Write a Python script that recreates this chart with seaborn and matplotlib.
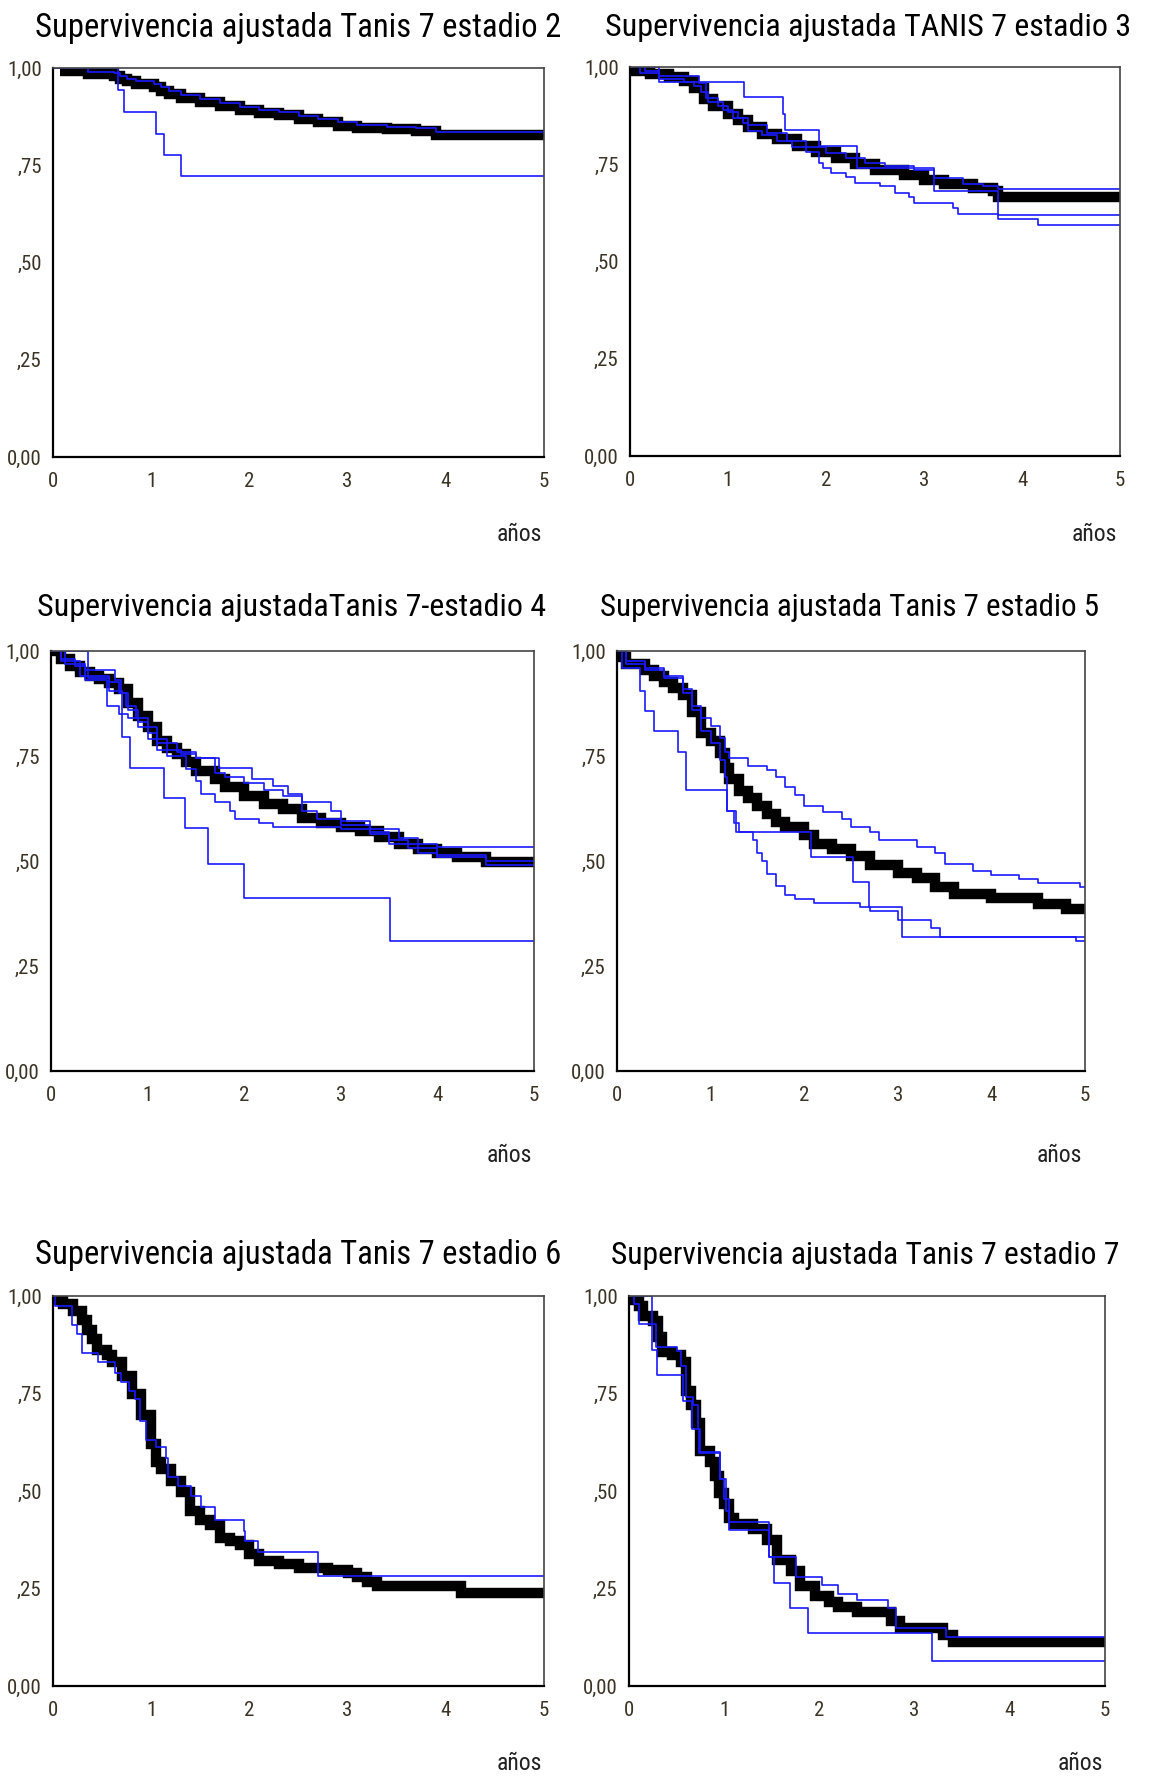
import matplotlib
matplotlib.use('Agg')
import matplotlib.pyplot as plt
import seaborn as sns
from matplotlib import font_manager

# ---- data: survival curves (years, survival) ----
# estadio 2
e2_black_t = [0.07, 0.36, 0.62, 0.68, 0.75, 0.85, 1.03, 1.1, 1.18, 1.3, 1.5, 1.7, 1.9, 2.1, 2.3, 2.5, 2.7, 2.9, 3.1, 3.4, 3.7, 3.9, 5.0]
e2_black_s = [0.993, 0.984, 0.98, 0.972, 0.966, 0.96, 0.952, 0.942, 0.932, 0.924, 0.912, 0.902, 0.892, 0.884, 0.878, 0.869, 0.86, 0.852, 0.846, 0.842, 0.838, 0.828, 0.828]
e2_blue1_t = [0, 0.36, 0.62, 0.68, 0.75, 0.85, 1.03, 1.1, 1.18, 1.3, 1.5, 1.7, 1.9, 2.1, 2.3, 2.5, 2.7, 2.9, 3.1, 3.4, 3.7, 3.9, 5.0]
e2_blue1_s = [1.0, 0.99, 0.987, 0.98, 0.973, 0.967, 0.96, 0.95, 0.94, 0.931, 0.92, 0.91, 0.9, 0.892, 0.886, 0.877, 0.868, 0.86, 0.853, 0.849, 0.845, 0.836, 0.836]
e2_blue2_t = [0, 0.66, 0.72, 1.05, 1.13, 1.30, 5.0]
e2_blue2_s = [1.0, 0.944, 0.886, 0.831, 0.777, 0.722, 0.722]

# estadio 3
e3_black_t = [0.0, 0.2, 0.4, 0.55, 0.65, 0.75, 0.85, 1.0, 1.1, 1.2, 1.35, 1.5, 1.7, 1.9, 2.1, 2.3, 2.5, 2.8, 3.0, 3.2, 3.5, 3.7, 3.76, 5.0]
e3_black_s = [0.991, 0.983, 0.974, 0.965, 0.947, 0.919, 0.901, 0.878, 0.864, 0.846, 0.828, 0.814, 0.797, 0.782, 0.765, 0.75, 0.736, 0.722, 0.709, 0.699, 0.69, 0.681, 0.667, 0.667]
e3_blue1_t = [0, 0.30, 1.16, 1.56, 1.58, 1.93, 2.32, 3.10, 3.75, 5.0]
e3_blue1_s = [1.0, 0.961, 0.924, 0.88, 0.837, 0.796, 0.741, 0.681, 0.62, 0.62]
e3_blue2_t = [0, 0.1, 0.3, 0.55, 0.65, 0.72, 0.8, 0.95, 1.05, 1.15, 1.2, 1.35, 1.5, 1.65, 1.8, 1.93, 1.97, 2.05, 2.2, 2.3, 2.55, 2.7, 2.85, 2.9, 3.3, 3.35, 3.75, 4.16, 5.0]
e3_blue2_s = [1.0, 0.985, 0.97, 0.962, 0.95, 0.935, 0.91, 0.89, 0.87, 0.855, 0.835, 0.825, 0.81, 0.795, 0.782, 0.754, 0.74, 0.727, 0.716, 0.702, 0.693, 0.676, 0.667, 0.651, 0.638, 0.623, 0.61, 0.594, 0.594]
e3_blue3_t = [0, 0.15, 0.3, 0.55, 0.7, 0.78, 0.9, 1.0, 1.1, 1.2, 1.4, 1.6, 1.8, 2.0, 2.2, 2.4, 2.6, 2.9, 3.1, 3.4, 3.6, 3.75, 5.0]
e3_blue3_s = [1.0, 0.99, 0.978, 0.976, 0.96, 0.92, 0.9, 0.885, 0.87, 0.85, 0.83, 0.81, 0.795, 0.78, 0.765, 0.752, 0.745, 0.735, 0.715, 0.7, 0.695, 0.686, 0.686]

# estadio 4
e4_black_t = [0, 0.1, 0.2, 0.3, 0.4, 0.5, 0.6, 0.7, 0.8, 0.9, 1.0, 1.1, 1.2, 1.3, 1.4, 1.5, 1.7, 1.8, 2.0, 2.2, 2.4, 2.6, 2.8, 3.0, 3.2, 3.4, 3.6, 3.8, 4.0, 4.2, 4.5, 5.0]
e4_black_s = [1.0, 0.982, 0.964, 0.95, 0.941, 0.933, 0.924, 0.909, 0.877, 0.845, 0.818, 0.786, 0.768, 0.754, 0.736, 0.715, 0.695, 0.676, 0.654, 0.635, 0.624, 0.603, 0.59, 0.581, 0.572, 0.558, 0.54, 0.528, 0.52, 0.51, 0.497, 0.497]
e4_blue1_t = [0, 0.38, 0.6, 0.73, 0.82, 1.17, 1.39, 1.63, 2.0, 3.51, 5.0]
e4_blue1_s = [1.0, 0.936, 0.905, 0.795, 0.722, 0.649, 0.578, 0.494, 0.412, 0.309, 0.309]
e4_blue2_t = [0, 0.1, 0.25, 0.35, 0.66, 0.72, 0.78, 0.88, 1.0, 1.1, 1.2, 1.35, 1.5, 1.74, 2.08, 2.3, 2.45, 2.6, 2.9, 3.0, 3.3, 3.6, 3.8, 4.0, 5.0]
e4_blue2_s = [1.0, 0.98, 0.965, 0.955, 0.93, 0.9, 0.87, 0.84, 0.818, 0.79, 0.765, 0.755, 0.745, 0.722, 0.695, 0.679, 0.66, 0.64, 0.62, 0.595, 0.575, 0.555, 0.54, 0.533, 0.533]
e4_blue3_t = [0, 0.1, 0.3, 0.6, 0.7, 0.8, 0.9, 1.0, 1.1, 1.3, 1.5, 1.7, 1.8, 2.0, 2.2, 2.4, 2.6, 2.75, 3.0, 3.3, 3.5, 3.7, 4.0, 4.5, 5.0]
e4_blue3_s = [1.0, 0.975, 0.94, 0.925, 0.9, 0.86, 0.83, 0.805, 0.78, 0.76, 0.745, 0.71, 0.7, 0.685, 0.67, 0.655, 0.62, 0.6, 0.585, 0.57, 0.55, 0.53, 0.515, 0.5, 0.5]
e4_blue4_t = [0, 0.15, 0.35, 0.58, 0.7, 0.8, 0.9, 1.0, 1.1, 1.2, 1.4, 1.5, 1.55, 1.7, 1.85, 1.9, 2.15, 2.3, 3.0, 3.3, 3.5, 3.8, 4.0, 4.5, 5.0]
e4_blue4_s = [1.0, 0.97, 0.93, 0.868, 0.85, 0.84, 0.82, 0.79, 0.765, 0.75, 0.72, 0.69, 0.66, 0.64, 0.62, 0.6, 0.59, 0.58, 0.575, 0.565, 0.54, 0.52, 0.51, 0.49, 0.49]

# estadio 5
e5_black_t = [0, 0.05, 0.1, 0.3, 0.4, 0.5, 0.6, 0.7, 0.8, 0.9, 1.0, 1.1, 1.15, 1.2, 1.3, 1.4, 1.5, 1.6, 1.7, 1.8, 2.0, 2.1, 2.3, 2.5, 2.7, 3.0, 3.2, 3.4, 3.6, 4.0, 4.5, 4.8, 5.0]
e5_black_s = [1.0, 0.986, 0.968, 0.954, 0.941, 0.927, 0.911, 0.895, 0.854, 0.804, 0.786, 0.758, 0.722, 0.695, 0.667, 0.649, 0.631, 0.611, 0.593, 0.581, 0.562, 0.541, 0.528, 0.512, 0.49, 0.471, 0.459, 0.439, 0.421, 0.412, 0.398, 0.385, 0.385]
e5_blue1_t = [0, 0.1, 0.3, 0.5, 0.7, 0.8, 0.9, 1.0, 1.1, 1.15, 1.2, 1.4, 1.6, 1.7, 1.8, 1.9, 2.0, 2.2, 2.4, 2.5, 2.7, 2.8, 3.2, 3.4, 3.5, 3.8, 4.0, 4.3, 4.5, 4.95, 5.0]
e5_blue1_s = [1.0, 0.975, 0.96, 0.94, 0.91, 0.87, 0.84, 0.822, 0.793, 0.76, 0.745, 0.727, 0.717, 0.699, 0.676, 0.658, 0.631, 0.617, 0.599, 0.581, 0.569, 0.549, 0.533, 0.52, 0.494, 0.476, 0.467, 0.456, 0.448, 0.437, 0.437]
e5_blue2_t = [0, 0.05, 0.25, 0.3, 0.4, 0.65, 0.74, 1.17, 1.27, 2.07, 2.52, 2.69, 3.04, 5.0]
e5_blue2_s = [1.0, 0.96, 0.904, 0.858, 0.81, 0.76, 0.668, 0.62, 0.57, 0.51, 0.45, 0.39, 0.32, 0.32]
e5_blue3_t = [0, 0.1, 0.3, 0.5, 0.7, 0.8, 0.9, 1.0, 1.1, 1.15, 1.18, 1.25, 1.3, 1.45, 1.5, 1.55, 1.6, 1.7, 1.8, 1.9, 2.1, 2.6, 2.7, 3.0, 3.35, 3.45, 4.9, 5.0]
e5_blue3_s = [1.0, 0.97, 0.955, 0.935, 0.9, 0.86, 0.81, 0.78, 0.74, 0.7, 0.62, 0.59, 0.57, 0.55, 0.52, 0.5, 0.47, 0.44, 0.42, 0.41, 0.40, 0.39, 0.382, 0.36, 0.34, 0.32, 0.31, 0.31]

# estadio 6
e6_black_t = [0, 0.05, 0.1, 0.2, 0.3, 0.35, 0.4, 0.45, 0.55, 0.6, 0.7, 0.8, 0.9, 1.0, 1.05, 1.1, 1.2, 1.3, 1.4, 1.5, 1.6, 1.7, 1.8, 1.9, 2.0, 2.1, 2.3, 2.5, 2.8, 3.0, 3.1, 3.2, 3.3, 4.15, 5.0]
e6_black_s = [1.0, 0.989, 0.98, 0.962, 0.939, 0.912, 0.889, 0.862, 0.848, 0.83, 0.794, 0.748, 0.694, 0.621, 0.575, 0.557, 0.525, 0.498, 0.448, 0.425, 0.412, 0.38, 0.371, 0.362, 0.339, 0.321, 0.312, 0.303, 0.298, 0.289, 0.28, 0.266, 0.257, 0.239, 0.239]
e6_blue1_t = [0, 0.02, 0.19, 0.24, 0.30, 0.46, 0.63, 0.69, 0.77, 0.84, 0.89, 0.95, 1.05, 1.15, 1.17, 1.27, 1.41, 1.51, 1.65, 1.94, 1.96, 2.09, 2.70, 5.0]
e6_blue1_s = [1.0, 0.975, 0.925, 0.903, 0.853, 0.83, 0.803, 0.78, 0.757, 0.735, 0.68, 0.63, 0.612, 0.585, 0.535, 0.512, 0.486, 0.459, 0.425, 0.398, 0.371, 0.344, 0.282, 0.282]

# estadio 7
e7_black_t = [0, 0.05, 0.1, 0.15, 0.25, 0.3, 0.35, 0.45, 0.55, 0.6, 0.65, 0.7, 0.75, 0.85, 0.9, 0.95, 1.0, 1.05, 1.1, 1.3, 1.45, 1.55, 1.7, 1.8, 1.95, 2.1, 2.2, 2.4, 2.75, 2.85, 3.3, 3.4, 5.0]
e7_black_s = [1.0, 0.989, 0.975, 0.948, 0.935, 0.894, 0.857, 0.848, 0.83, 0.757, 0.721, 0.675, 0.603, 0.575, 0.539, 0.494, 0.466, 0.43, 0.416, 0.403, 0.375, 0.323, 0.294, 0.257, 0.23, 0.216, 0.203, 0.189, 0.166, 0.148, 0.13, 0.112, 0.112]
e7_blue1_t = [0, 0.24, 0.29, 0.57, 0.66, 0.74, 0.96, 1.02, 1.05, 1.47, 1.52, 1.69, 1.88, 3.18, 5.0]
e7_blue1_s = [1.0, 0.862, 0.798, 0.73, 0.66, 0.598, 0.532, 0.45, 0.4, 0.33, 0.265, 0.2, 0.135, 0.064, 0.064]
e7_blue2_t = [0, 0.05, 0.1, 0.28, 0.5, 0.55, 0.6, 0.67, 0.72, 0.75, 0.96, 1.0, 1.05, 1.47, 1.75, 2.03, 2.2, 2.4, 2.72, 2.8, 3.33, 5.0]
e7_blue2_s = [1.0, 0.98, 0.928, 0.87, 0.86, 0.82, 0.74, 0.72, 0.66, 0.6, 0.53, 0.48, 0.42, 0.33, 0.28, 0.26, 0.235, 0.22, 0.2, 0.15, 0.125, 0.125]

titles = ['Supervivencia ajustada Tanis 7 estadio 2',
          'Supervivencia ajustada TANIS 7 estadio 3',
          'Supervivencia ajustadaTanis 7-estadio 4',
          'Supervivencia ajustada Tanis 7 estadio 5',
          'Supervivencia ajustada Tanis 7 estadio 6',
          'Supervivencia ajustada Tanis 7 estadio 7']
x_ticks = [0, 1, 2, 3, 4, 5]
y_ticks = [0, 0.25, 0.5, 0.75, 1.0]
y_tick_labels = ['0,00', ',25', ',50', ',75', '1,00']
x_label = 'años'

panels = [
    ((e2_black_t, e2_black_s), [(e2_blue1_t, e2_blue1_s), (e2_blue2_t, e2_blue2_s)]),
    ((e3_black_t, e3_black_s), [(e3_blue1_t, e3_blue1_s), (e3_blue2_t, e3_blue2_s), (e3_blue3_t, e3_blue3_s)]),
    ((e4_black_t, e4_black_s), [(e4_blue1_t, e4_blue1_s), (e4_blue2_t, e4_blue2_s), (e4_blue3_t, e4_blue3_s), (e4_blue4_t, e4_blue4_s)]),
    ((e5_black_t, e5_black_s), [(e5_blue1_t, e5_blue1_s), (e5_blue2_t, e5_blue2_s), (e5_blue3_t, e5_blue3_s)]),
    ((e6_black_t, e6_black_s), [(e6_blue1_t, e6_blue1_s)]),
    ((e7_black_t, e7_black_s), [(e7_blue1_t, e7_blue1_s), (e7_blue2_t, e7_blue2_s)]),
]

# layout in pixels of the 1152x1776 picture: axes box, title start/baseline/width, 'años' right/baseline
W, H = 1152, 1776
boxes = [(53, 544, 68, 457), (630, 1120, 67, 456),
         (51, 534, 651, 1071), (617, 1085, 651, 1071),
         (53, 544, 1296, 1686), (629, 1105, 1296, 1686)]
title_pos = [(35, 37), (605, 36), (37, 616), (600, 616), (35, 1264), (611, 1264)]
title_width = [525, 525, 509, 499, 525, 509]
label_pos = [(542, 541), (1117, 541), (532, 1162), (1082, 1162), (542, 1770), (1103, 1770)]

sns.set_style('white')

# pick the narrowest-looking sans face available (Arial Narrow look-alike)
prefs = ['Roboto Condensed', 'Liberation Sans Narrow', 'Arial Narrow', 'Open Sans Condensed',
         'Noto Sans Condensed', 'Noto Sans', 'Open Sans', 'DejaVu Sans']
best, best_rank = None, 99
for f in font_manager.fontManager.ttflist:
    if f.style != 'normal' or f.weight not in (400, 'normal', 'regular'):
        continue
    condensed = ('Narrow' in f.name or 'Condensed' in f.name
                 or f.stretch in ('condensed', 'semi-condensed', 'extra-condensed')
                 or 'Condensed' in f.fname or 'Narrow' in f.fname)
    if not condensed:
        continue
    rank = 50
    for k, p in enumerate(prefs):
        if f.name.startswith(p):
            rank = k
            break
    if 'Semi' in f.fname or 'Extra' in f.fname or 'Ultra' in f.fname:
        rank += 20
    if rank < best_rank:
        best, best_rank = f, rank
if best is not None:
    fp = font_manager.FontProperties(fname=best.fname)
else:
    fp = font_manager.FontProperties(family='Liberation Sans')

blue = '#1a1aff'
tick_col = '#3b3425'

fig = plt.figure(figsize=(W / 100, H / 100), dpi=100)
fig.patch.set_facecolor('white')

title_texts = []
for i, ((bt, bs), blues) in enumerate(panels):
    l, r, t, b = boxes[i]
    ax = fig.add_axes([l / W, 1 - b / H, (r - l) / W, (b - t) / H])
    sns.lineplot(x=bt, y=bs, ax=ax, color='black', lw=7.5, drawstyle='steps-post',
                 estimator=None, sort=False, solid_capstyle='butt', solid_joinstyle='miter')
    for ct, cs in blues:
        sns.lineplot(x=ct, y=cs, ax=ax, color=blue, lw=1.2, drawstyle='steps-post',
                     estimator=None, sort=False)
    ax.set_xlim(0, 5)
    ax.set_ylim(0, 1)
    ax.set_xticks(x_ticks)
    ax.set_xticklabels([str(v) for v in x_ticks])
    ax.set_yticks(y_ticks)
    ax.set_yticklabels(y_tick_labels)
    ax.set_xlabel('')
    ax.set_ylabel('')
    ax.tick_params(axis='both', direction='out', length=5, width=2, color='black',
                   labelcolor=tick_col, pad=3)
    ax.tick_params(axis='x', pad=6)
    for lab in ax.get_xticklabels() + ax.get_yticklabels():
        lab.set_fontproperties(fp)
        lab.set_fontsize(15)
    for side in ['left', 'bottom']:
        ax.spines[side].set_color('black')
        ax.spines[side].set_linewidth(1.6)
    for side in ['top', 'right']:
        ax.spines[side].set_color('#444444')
        ax.spines[side].set_linewidth(1.2)
        ax.spines[side].set_visible(True)

    tx, ty = title_pos[i]
    title_texts.append(fig.text(tx / W, 1 - ty / H, titles[i], ha='left', va='baseline',
                                fontproperties=fp, fontsize=22, color='black'))
    lx, ly = label_pos[i]
    fig.text(lx / W, 1 - ly / H, x_label, ha='right', va='baseline', fontproperties=fp,
             fontsize=17, color='#222222')

# fit each title to the width it has in the reference
fig.canvas.draw()
renderer = fig.canvas.get_renderer()
for txt, target in zip(title_texts, title_width):
    w = txt.get_window_extent(renderer).width
    txt.set_fontsize(txt.get_fontsize() * target / w)

fig.savefig('out.png', dpi=100, facecolor='white')
